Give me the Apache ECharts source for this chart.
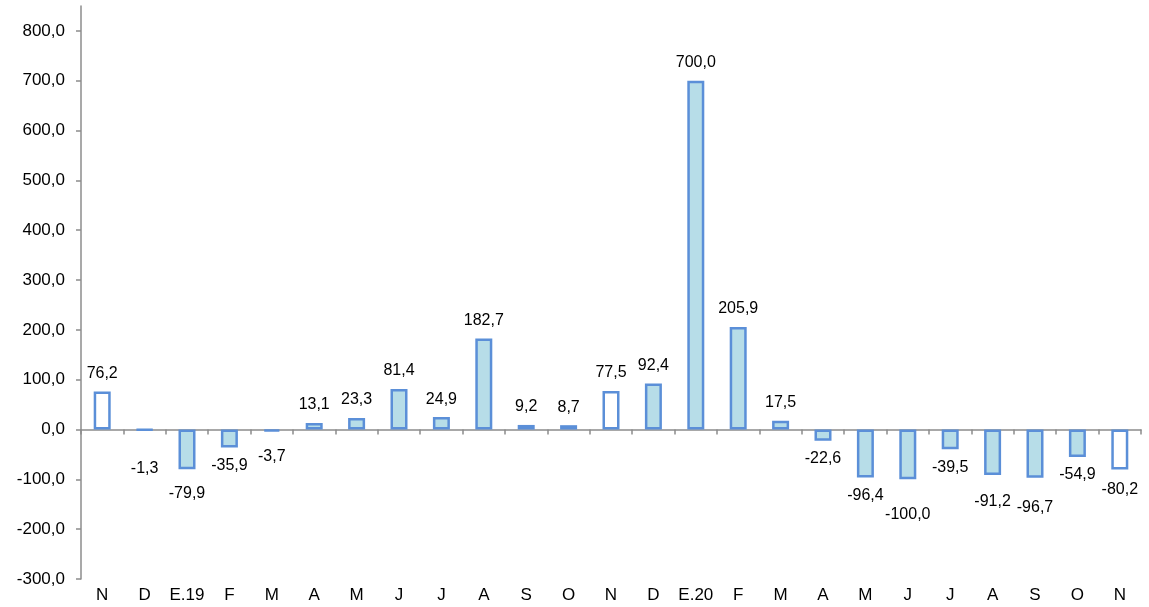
<!DOCTYPE html>
<html><head><meta charset="utf-8">
<script src="https://cdn.jsdelivr.net/npm/echarts@6/dist/echarts.min.js"></script>
<style>html,body{margin:0;padding:0;background:#fff}#c{width:1149px;height:607px}</style>
</head><body><div id="c"></div>
<script>
const categories = ['N','D','E.19','F','M','A','M','J','J','A','S','O','N','D','E.20','F','M','A','M','J','J','A','S','O','N'];
const values = [76.2,-1.3,-79.9,-35.9,-3.7,13.1,23.3,81.4,24.9,182.7,9.2,8.7,77.5,92.4,700.0,205.9,17.5,-22.6,-96.4,-100.0,-39.5,-91.2,-96.7,-54.9,-80.2];
const hollowIdx = [0,12,24];
const yTicks = [-300,-200,-100,0,100,200,300,400,500,600,700,800];

const fmt = v => v.toFixed(1).replace('.', ',');
const font = 'Liberation Sans, Arial, sans-serif';
const axisGrey = '#8c8c8c';
// extra label spacing (px) mimicking the reference's staggered labels
const labelExtra = {1: 19, 2: 6, 4: 7, 19: 17, 21: 9, 22: 12, 24: 2};

const data = values.map((v,i) => ({
  value: v,
  itemStyle: { color: hollowIdx.includes(i) ? '#ffffff' : '#b7dde8' },
  label: { position: v >= 0 ? 'top' : 'bottom', distance: 10 + (labelExtra[i] || 0) }
}));

const chart = echarts.init(document.getElementById('c'));
chart.setOption({
  animation: false,
  grid: { left: 81, right: 8, top: 6, bottom: 28, containLabel: false },
  xAxis: [
    { type: 'category', data: categories,
      axisLine: { onZero: true, lineStyle: { color: axisGrey, width: 1.5 } },
      axisTick: { show: true, interval: 0, length: 5, lineStyle: { color: axisGrey, width: 1.5 } },
      axisLabel: { show: false } },
    { type: 'category', data: categories, position: 'bottom',
      axisLine: { show: false, onZero: false }, axisTick: { show: false },
      axisLabel: { interval: 0, hideOverlap: false, color: '#000', fontFamily: font, fontSize: 17, margin: 8 } }
  ],
  yAxis: {
    type: 'value', min: -300, max: 850, interval: 50,
    splitLine: { show: false },
    axisLine: { show: true, lineStyle: { color: axisGrey, width: 1.5 } },
    axisTick: { show: true, length: 5, customValues: yTicks, lineStyle: { color: axisGrey, width: 1.5 } },
    axisLabel: { color: '#000', fontFamily: font, fontSize: 17, margin: 16, customValues: yTicks, formatter: v => fmt(v) }
  },
  series: [{
    type: 'bar', xAxisIndex: 0, data: data, barWidth: 17,
    itemStyle: { borderColor: '#5b8fd8', borderWidth: 2.5 },
    label: { show: true, color: '#000', fontFamily: font, fontSize: 16, distance: 10, formatter: p => fmt(p.value) }
  }]
});
</script></body></html>
